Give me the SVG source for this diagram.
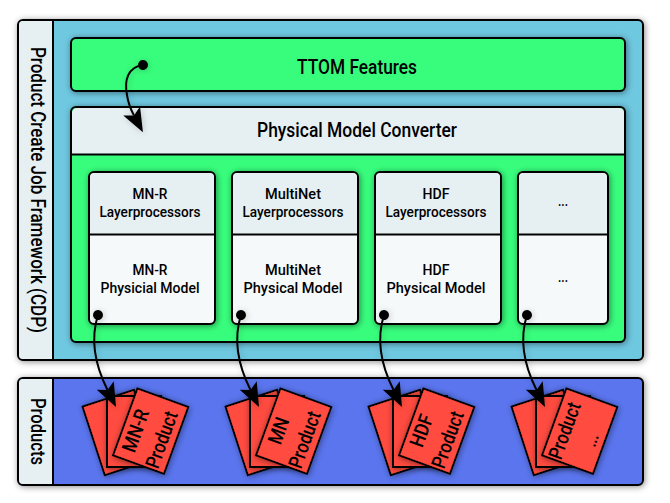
<svg xmlns="http://www.w3.org/2000/svg" width="670" height="503" viewBox="0 0 670 503">
<style>
text{font-family:Roboto,"Noto Sans",sans-serif;font-weight:500;fill:#000;text-anchor:middle}
.b{stroke:#000;stroke-width:2}
.lt{fill:#e6f0f3}.wh{fill:#f5f9fa}.gr{fill:#37fd7c}.cy{fill:#6ec8e0}.bl{fill:#5a75ee}.rd{fill:#ff4b40}
.big{font-size:19.500px}.sm{font-size:15px}.pg{font-size:20px}
.c{fill:none;stroke:#000;stroke-width:2}
</style>
<defs>
<filter id="s" x="-20%" y="-20%" width="140%" height="140%"><feDropShadow dx="1" dy="1" stdDeviation="3" flood-color="#000" flood-opacity=".45"/></filter>
<filter id="cs" x="-50%" y="-50%" width="200%" height="200%"><feDropShadow dx="1" dy="1" stdDeviation="3" flood-color="#000" flood-opacity=".2"/></filter>
<marker id="h" markerUnits="userSpaceOnUse" markerWidth="30" markerHeight="24" viewBox="0 0 30 24" refX="5" refY="12" orient="auto"><path d="M0 2.500L24 12L0 21.500L5 12Z" fill="#000"/></marker>
<marker id="d" markerUnits="userSpaceOnUse" markerWidth="12" markerHeight="12" viewBox="0 0 12 12" refX="6" refY="6" orient="auto"><circle cx="6" cy="6" r="5" fill="#000"/></marker>
<g id="stack">
<rect x="-27" y="-36" width="54" height="72" class="rd b" transform="translate(119.400 432.500) rotate(-18)" filter="url(#s)"/>
<rect x="107" y="396" width="54" height="71" class="rd b" filter="url(#s)"/>
<rect x="-27" y="-36" width="54" height="71" class="rd b" transform="translate(150.500 431.600) rotate(20)" filter="url(#s)"/>
</g>
</defs>
<g id="framework">
<rect x="18" y="20" width="625" height="340" rx="5" class="cy b" filter="url(#s)"/>
<path d="M53 21H23a4 4 0 0 0-4 4V355a4 4 0 0 0 4 4H53Z" class="lt"/>
<path d="M53 20V360" class="b"/>
<text class="big" transform="translate(31 190) rotate(90)" textLength="286" lengthAdjust="spacingAndGlyphs">Product Create Job Framework (CDP)</text>
</g>
<g id="products">
<rect x="18" y="378" width="625" height="107" rx="5" class="bl b" filter="url(#s)"/>
<path d="M53 379H23a4 4 0 0 0-4 4V480a4 4 0 0 0 4 4H53Z" class="lt"/>
<path d="M53 378V485" class="b"/>
<text class="big" transform="translate(31 431.500) rotate(90)" textLength="67" lengthAdjust="spacingAndGlyphs">Products</text>
</g>
<g id="ttom">
<rect x="71" y="38" width="554" height="53" rx="5" class="gr b" filter="url(#s)"/>
<text class="big" x="357" y="74" textLength="120" lengthAdjust="spacingAndGlyphs">TTOM Features</text>
</g>
<g id="converter">
<rect x="71" y="107" width="554" height="235" rx="5" class="gr b" filter="url(#s)"/>
<path d="M72 154V113a5 5 0 0 1 5-5H619a5 5 0 0 1 5 5V154Z" class="lt"/>
<path d="M71 154.500H625" class="b"/>
<text class="big" x="357" y="136.500" textLength="200" lengthAdjust="spacingAndGlyphs">Physical Model Converter</text>
</g>
<g id="mnr">
<rect x="89" y="172" width="126" height="152" rx="5" class="wh b" filter="url(#s)"/>
<path d="M90 234V178a5 5 0 0 1 5-5H209a5 5 0 0 1 5 5V234Z" class="lt"/>
<path d="M89 234.500H215" class="b"/>
<text class="sm" x="150" y="199" textLength="35" lengthAdjust="spacingAndGlyphs">MN-R</text>
<text class="sm" x="150" y="217" textLength="101" lengthAdjust="spacingAndGlyphs">Layerprocessors</text>
<text class="sm" x="150" y="274.500" textLength="35" lengthAdjust="spacingAndGlyphs">MN-R</text>
<text class="sm" x="150" y="292.500" textLength="99" lengthAdjust="spacingAndGlyphs">Physicial Model</text>
</g>
<g id="multinet">
<rect x="232" y="172" width="126" height="152" rx="5" class="wh b" filter="url(#s)"/>
<path d="M233 234V178a5 5 0 0 1 5-5H352a5 5 0 0 1 5 5V234Z" class="lt"/>
<path d="M232 234.500H358" class="b"/>
<text class="sm" x="293" y="199" textLength="56" lengthAdjust="spacingAndGlyphs">MultiNet</text>
<text class="sm" x="293" y="217" textLength="101" lengthAdjust="spacingAndGlyphs">Layerprocessors</text>
<text class="sm" x="293" y="274.500" textLength="56" lengthAdjust="spacingAndGlyphs">MultiNet</text>
<text class="sm" x="293" y="292.500" textLength="99" lengthAdjust="spacingAndGlyphs">Physical Model</text>
</g>
<g id="hdf">
<rect x="375" y="172" width="126" height="152" rx="5" class="wh b" filter="url(#s)"/>
<path d="M376 234V178a5 5 0 0 1 5-5H495a5 5 0 0 1 5 5V234Z" class="lt"/>
<path d="M375 234.500H501" class="b"/>
<text class="sm" x="436" y="199" textLength="27" lengthAdjust="spacingAndGlyphs">HDF</text>
<text class="sm" x="436" y="217" textLength="101" lengthAdjust="spacingAndGlyphs">Layerprocessors</text>
<text class="sm" x="436" y="274.500" textLength="27" lengthAdjust="spacingAndGlyphs">HDF</text>
<text class="sm" x="436" y="292.500" textLength="99" lengthAdjust="spacingAndGlyphs">Physical Model</text>
</g>
<g id="other">
<rect x="518" y="172" width="90" height="152" rx="5" class="wh b" filter="url(#s)"/>
<path d="M519 234V178a5 5 0 0 1 5-5H602a5 5 0 0 1 5 5V234Z" class="lt"/>
<path d="M518 234.500H608" class="b"/>
<text class="sm" x="563" y="206" textLength="10" lengthAdjust="spacingAndGlyphs">...</text>
<text class="sm" x="563" y="282" textLength="10" lengthAdjust="spacingAndGlyphs">...</text>
</g>
<g id="product-mnr">
<use href="#stack"/>
<text class="pg" transform="translate(142 433) rotate(-70)" textLength="44" lengthAdjust="spacingAndGlyphs">MN-R</text>
<text class="pg" transform="translate(168 442) rotate(-70)" textLength="59" lengthAdjust="spacingAndGlyphs">Product</text>
</g>
<g id="product-mn">
<use href="#stack" x="143"/>
<text class="pg" transform="translate(285 433) rotate(-70)" textLength="27" lengthAdjust="spacingAndGlyphs">MN</text>
<text class="pg" transform="translate(311 442) rotate(-70)" textLength="59" lengthAdjust="spacingAndGlyphs">Product</text>
</g>
<g id="product-hdf">
<use href="#stack" x="286"/>
<text class="pg" transform="translate(428 433) rotate(-70)" textLength="33" lengthAdjust="spacingAndGlyphs">HDF</text>
<text class="pg" transform="translate(454 442) rotate(-70)" textLength="59" lengthAdjust="spacingAndGlyphs">Product</text>
</g>
<g id="product-other">
<use href="#stack" x="429"/>
<text class="pg" transform="translate(571 433) rotate(-70)" textLength="59" lengthAdjust="spacingAndGlyphs">Product</text>
<text class="pg" transform="translate(597 442) rotate(-70)" textLength="12" lengthAdjust="spacingAndGlyphs">...</text>
</g>
<g id="connectors" filter="url(#cs)">
<path class="c" d="M143 65C128 67 124 80 127 95C128 102 130 108 134 115.500" marker-start="url(#d)" marker-end="url(#h)"/>
<path class="c" d="M98 315C90 340 95 365 107.500 390" marker-start="url(#d)" marker-end="url(#h)"/>
<path class="c" d="M241 315C233 340 238 365 250.500 390" marker-start="url(#d)" marker-end="url(#h)"/>
<path class="c" d="M384 315C376 340 381 365 393.500 390" marker-start="url(#d)" marker-end="url(#h)"/>
<path class="c" d="M527 315C519 340 524 365 536.500 390" marker-start="url(#d)" marker-end="url(#h)"/>
</g>
</svg>
